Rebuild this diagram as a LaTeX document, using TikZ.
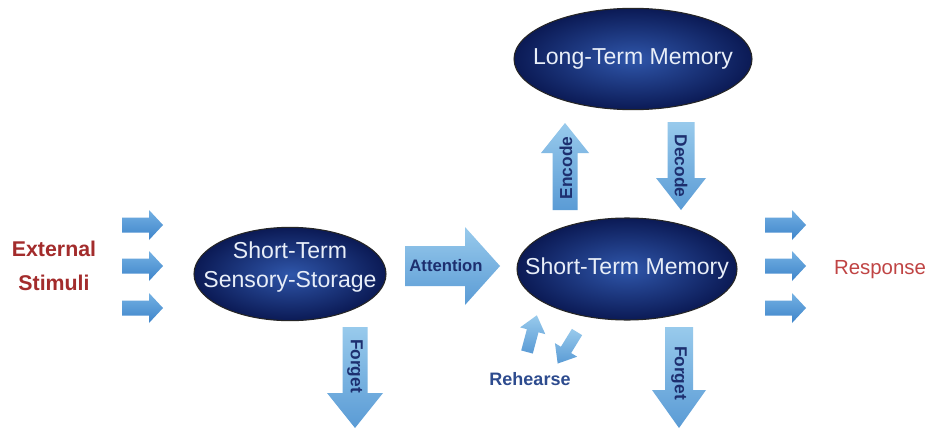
\documentclass[tikz,border=0pt]{standalone}
\usepackage{fontspec}
\setmainfont{Liberation Sans}
\usetikzlibrary{shapes.geometric}
\definecolor{navyin}{HTML}{2F56AA}
\definecolor{navyout}{HTML}{0B1A55}
\definecolor{ellText}{HTML}{E8EEF8}
\definecolor{arrA}{HTML}{5A9BD5}
\definecolor{arrB}{HTML}{98CAEC}
\definecolor{inA}{HTML}{3E84CA}
\definecolor{inB}{HTML}{74B1E3}
\definecolor{labBlue}{HTML}{1D2F6F}
\definecolor{stimRed}{HTML}{A32C2C}
\definecolor{respRed}{HTML}{C04444}
\definecolor{rehBlue}{HTML}{2D4B8E}
% #1 style, #2 tail point, #3 angle, #4 length, #5 shaft half width, #6 head half width, #7 head length, #8 name of tip
\newcommand{\blockarrow}[8]{%
\begin{scope}[shift={#2},rotate=#3]
\shade[#1] (0,-#5) -- ({#4-#7},-#5) -- ({#4-#7},-#6) -- (#4,0) -- ({#4-#7},#6) -- ({#4-#7},#5) -- (0,#5) -- cycle;
\coordinate (#8) at (#4,0);
\end{scope}}
\begin{document}
\begin{tikzpicture}[x=0.75pt,y=-0.75pt,
  ellnode/.style={ellipse, draw=black!85, line width=0.8pt, inner color=navyin, outer color=navyout, inner sep=0pt},
  elltext/.style={text=ellText, font=\fontsize{17.3}{21.5}\selectfont, align=center, inner sep=0pt},
  bigarrow/.style={top color=arrB, bottom color=arrA},
  smallarrow/.style={top color=inB, bottom color=inA},
  arrlabel/.style={text=labBlue, font=\bfseries\fontsize{13}{15}\selectfont, inner sep=0pt},
]
\useasboundingbox (0,0) rectangle (937,428);
\fill[white] (0,0) rectangle (937,428);

% memory stores
\node[ellnode, minimum width=178.5pt, minimum height=76pt] (ltm) at (633,59) {};
\node[elltext] (ltmt) at (ltm.center) {Long-Term Memory};
\node[ellnode, minimum width=165pt, minimum height=76.5pt] (stm) at (627,269) {};
\node[elltext] (stmt) at (stm.center) {Short-Term Memory};
\node[ellnode, minimum width=144pt, minimum height=70pt] (stss) at (290,274) {};
\node[elltext] (stsst) at (290,267) {Short-Term\\Sensory-Storage};

% inputs and outputs
\node[text=stimRed, font=\bfseries\fontsize{16}{25}\selectfont, align=center] (stim) at (54,266) {External\\Stimuli};
\node[text=respRed, font=\fontsize{15.3}{18}\selectfont] (resp) at (880,270) {Response};

\blockarrow{smallarrow}{(122,225)}{0}{41}{7.5}{15}{14}{in1}
\blockarrow{smallarrow}{(122,266)}{0}{41}{7.5}{15}{14}{in2}
\blockarrow{smallarrow}{(122,308)}{0}{41}{7.5}{15}{14}{in3}
\blockarrow{smallarrow}{(765,225)}{0}{41}{7.5}{15}{14}{out1}
\blockarrow{smallarrow}{(765,266)}{0}{41}{7.5}{15}{14}{out2}
\blockarrow{smallarrow}{(765,308)}{0}{41}{7.5}{15}{14}{out3}

% labelled flows
\blockarrow{bigarrow}{(405,266)}{0}{95}{20}{39}{35}{att}
\node[arrlabel, font=\bfseries\fontsize{12.5}{15}\selectfont] (attl) at (446,266) {Attention};

\blockarrow{bigarrow}{(565,210)}{90}{87}{12.5}{24}{30}{enc}
\node[arrlabel, rotate=90] (encl) at (566,168) {Encode};

\blockarrow{bigarrow}{(681,122)}{-90}{88}{13.5}{25}{32}{dec}
\node[arrlabel, rotate=-90] (decl) at (681,166) {Decode};

\blockarrow{bigarrow}{(679,327)}{-90}{101}{14}{27}{38}{fgr}
\node[arrlabel, rotate=-90] (fgrl) at (679,373) {Forget};

\blockarrow{bigarrow}{(355,327)}{-90}{101}{12.5}{28}{35}{fgl}
\node[arrlabel, rotate=-90] (fgll) at (355,366) {Forget};

% rehearsal loop
\blockarrow{bigarrow}{(527,352)}{75}{38}{6}{13}{16}{rup}
\blockarrow{bigarrow}{(577,332)}{-121.5}{37}{6}{13}{16}{rdn}
\node[text=rehBlue, font=\bfseries\fontsize{13.5}{16}\selectfont] (reh) at (530,379) {Rehearse};
\end{tikzpicture}
\end{document}
